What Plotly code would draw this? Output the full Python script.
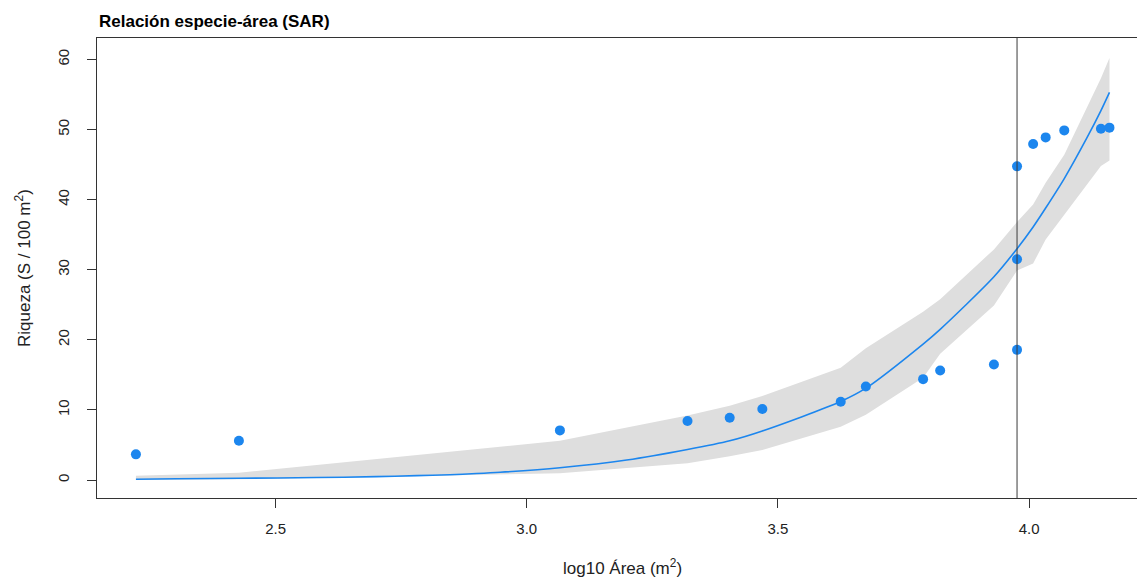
import plotly.graph_objects as go

# ---- data ----
x_obs = [2.222, 2.427, 3.066, 3.320, 3.404, 3.469, 3.625, 3.675, 3.789, 3.823,
         3.930, 3.976, 3.976, 3.976, 4.008, 4.033, 4.070, 4.143, 4.160]
y_obs = [3.66, 5.60, 7.08, 8.41, 8.88, 10.12, 11.16, 13.35, 14.39, 15.63,
         16.49, 18.57, 31.49, 44.75, 47.93, 48.88, 49.88, 50.12, 50.27]

band_x = [2.222, 2.427, 3.066, 3.320, 3.404, 3.469, 3.625, 3.675, 3.789, 3.823,
          3.930, 3.976, 4.008, 4.033, 4.070, 4.143, 4.160]
band_upper = [0.60, 1.05, 5.6, 9.2, 10.6, 12.0, 16.0, 18.8, 24.0, 25.8,
              32.9, 36.8, 39.3, 42.4, 46.4, 57.3, 60.2]
band_lower = [0.02, 0.10, 0.95, 2.4, 3.4, 4.3, 7.6, 9.3, 14.6, 18.0,
              24.9, 29.9, 30.9, 34.3, 37.8, 44.8, 45.6]

fit_x = [2.222, 2.303, 2.427, 2.582, 2.700, 2.781, 2.847, 2.900, 2.947, 3.066,
         3.199, 3.320, 3.404, 3.469, 3.625, 3.675, 3.789, 3.823, 3.930, 3.976,
         4.008, 4.033, 4.070, 4.115, 4.143, 4.160]
fit_y = [0.12, 0.18, 0.25, 0.35, 0.48, 0.62, 0.76, 0.92, 1.10, 1.75,
         2.85, 4.35, 5.60, 7.00, 11.2, 13.1, 19.4, 21.5, 29.0, 33.0,
         36.1, 38.8, 43.0, 48.8, 52.7, 55.3]

vline_x = 3.976

x_ticks = [2.5, 3.0, 3.5, 4.0]
x_tick_labels = ["2.5", "3.0", "3.5", "4.0"]
y_ticks = [0, 10, 20, 30, 40, 50, 60]
y_tick_labels = ["0", "10", "20", "30", "40", "50", "60"]

title_text = "Relación especie-área (SAR)"
x_title = "log10 Área (m<sup>2</sup>)"
y_title = "Riqueza (S / 100 m<sup>2</sup>)"

# ---- figure ----
FONT = "Liberation Sans, Arial, sans-serif"
BLUE = "#1C86EE"

fig = go.Figure()

fig.add_trace(go.Scatter(
    x=band_x + band_x[::-1],
    y=band_upper + band_lower[::-1],
    fill="toself", fillcolor="#DEDEDE", line=dict(width=0),
    mode="lines", hoverinfo="skip", showlegend=False))

fig.add_trace(go.Scatter(
    x=fit_x, y=fit_y, mode="lines",
    line=dict(color=BLUE, width=1.6, shape="spline", smoothing=0.8),
    showlegend=False))

fig.add_trace(go.Scatter(
    x=x_obs, y=y_obs, mode="markers",
    marker=dict(color=BLUE, size=10, line=dict(width=0)),
    showlegend=False))

fig.add_shape(type="line", x0=vline_x, x1=vline_x, xref="x",
              y0=0, y1=1, yref="paper", line=dict(color="#3a3a3a", width=1))

W, H = 1137, 578
L, R, T, B = 97, 0, 38, 80
pw, ph = W - L - R, H - T - B

def px_x(p):
    return (p - L) / pw

def px_y(p):
    return (H - B - p) / ph

fig.update_layout(
    width=W, height=H,
    margin=dict(l=L, r=R, t=T, b=B),
    paper_bgcolor="white", plot_bgcolor="white",
    font=dict(family=FONT, color="black"),
    xaxis=dict(range=[2.1445, 4.2148], tickvals=x_ticks, ticktext=x_tick_labels,
               ticks="outside", ticklen=9, tickwidth=1, tickcolor="#333",
               showline=True, linecolor="#333", linewidth=1, mirror=True,
               showgrid=False, zeroline=False,
               tickfont=dict(size=15, family=FONT, color="#222"),
               ticklabelstandoff=8),
    yaxis=dict(range=[-2.565, 63.06], tickvals=y_ticks, ticktext=y_tick_labels,
               tickangle=-90,
               ticks="outside", ticklen=9, tickwidth=1, tickcolor="#333",
               showline=True, linecolor="#333", linewidth=1, mirror=False,
               showgrid=False, zeroline=False,
               tickfont=dict(size=15, family=FONT, color="#222"),
               ticklabelstandoff=12),
    annotations=[
        dict(text="<b>" + title_text + "</b>", xref="paper", yref="paper",
             x=0, y=px_y(21), xanchor="left", yanchor="middle", showarrow=False,
             font=dict(size=17, family=FONT, color="black")),
        dict(text=x_title, xref="paper", yref="paper",
             x=px_x(622), y=px_y(567), xanchor="center", yanchor="middle",
             showarrow=False, font=dict(size=17, family=FONT, color="#222")),
        dict(text=y_title, xref="paper", yref="paper", textangle=-90,
             x=px_x(23), y=px_y(268), xanchor="center", yanchor="middle",
             showarrow=False, font=dict(size=17, family=FONT, color="#222")),
    ],
)

fig.write_html("out.html")
